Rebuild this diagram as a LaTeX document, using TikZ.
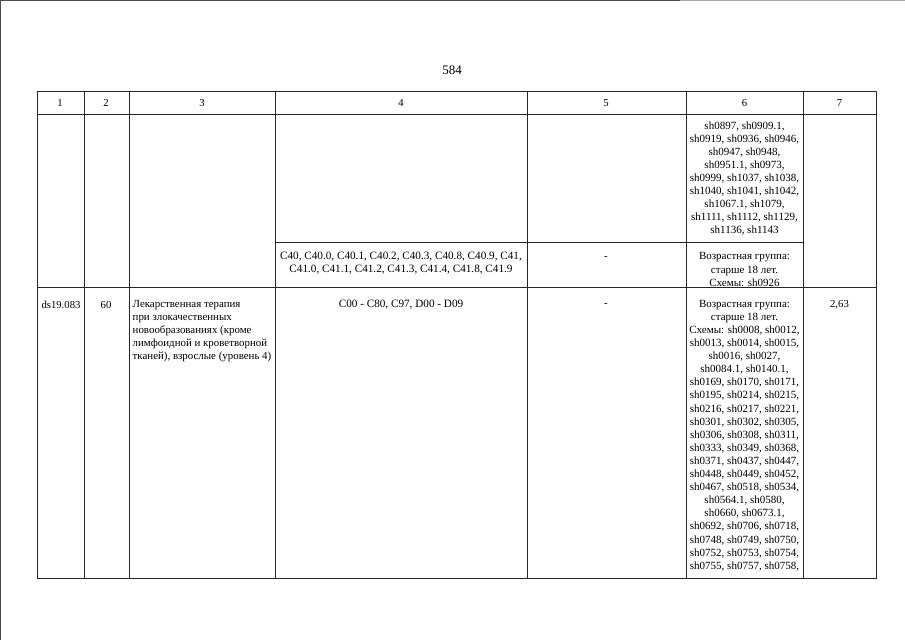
\documentclass[tikz,border=0pt]{standalone}
\usepackage{fontspec}
\setmainfont{Liberation Serif}
\begin{document}
\begin{tikzpicture}[x=1pt,y=-1pt,
  grid/.style={line width=0.8pt,draw=black!85},
  edge/.style={line width=1pt,draw=black!70},
  cell/.style={inner sep=0pt,font=\fontsize{10.7}{13.1}\selectfont},
  ccell/.style={cell,align=center},
  schemes/.style={ccell,font=\fontsize{11}{13.1}\selectfont},
  lcell/.style={cell,align=left,anchor=west}]
\useasboundingbox (0,0) rectangle (905,640);
% scan edges
\draw[edge] (0.8,0) -- (0.8,640);
\draw[edge] (0,0.5) -- (680,0.5);
\draw[edge,draw=black!35] (680,0.5) -- (905,0.5);
% page number
\node[cell,font=\fontsize{13}{15}\selectfont] (pg) at (452,70) {584};
% table grid
\draw[grid] (37,91) rectangle (876,578);
\draw[grid] (37,114) -- (876,114);
\draw[grid] (37,287) -- (876,287);
\draw[grid] (275,242) -- (803,242);
\foreach \x in {84,129,275,527,686,803} \draw[grid] (\x,91) -- (\x,578);
% header
\node[cell] (h1) at (60,103) {1};
\node[cell] (h2) at (106,103) {2};
\node[cell] (h3) at (202,103) {3};
\node[cell] (h4) at (401,103) {4};
\node[cell] (h5) at (606,103) {5};
\node[cell] (h6) at (744.5,103) {6};
\node[cell] (h7) at (839.5,103) {7};
% row 1 (continuation)
\node[schemes] (r1c6) at (744.5,178.5) {sh0897, sh0909.1,\\sh0919, sh0936, sh0946,\\sh0947, sh0948,\\sh0951.1, sh0973,\\sh0999, sh1037, sh1038,\\sh1040, sh1041, sh1042,\\sh1067.1, sh1079,\\sh1111, sh1112, sh1129,\\sh1136, sh1143};
% row 2
\node[ccell,font=\fontsize{11.2}{13.1}\selectfont] (r2c4) at (401,263.5) {C40, C40.0, C40.1, C40.2, C40.3, C40.8, C40.9, C41,\\C41.0, C41.1, C41.2, C41.3, C41.4, C41.8, C41.9};
\node[cell] (r2c5) at (606,258) {-};
\node[schemes] (r2c6) at (744.5,269.5) {Возрастная группа:\\старше 18 лет.\\Схемы: sh0926};
% row 3
\node[cell] (r3c1) at (61,304.5) {ds19.083};
\node[cell] (r3c2) at (106,304.5) {60};
\node[lcell,font=\fontsize{10.9}{13.1}\selectfont] (r3c3) at (132.5,331) {Лекарственная терапия\\при злокачественных\\новообразованиях (кроме\\лимфоидной и кроветворной\\тканей), взрослые (уровень 4)};
\node[cell,font=\fontsize{11.2}{13.1}\selectfont] (r3c4) at (401,304.5) {C00 - C80, C97, D00 - D09};
\node[cell] (r3c5) at (606,305) {-};
\node[schemes] (r3c6) at (744.5,435.5) {Возрастная группа:\\старше 18 лет.\\Схемы: sh0008, sh0012,\\sh0013, sh0014, sh0015,\\sh0016, sh0027,\\sh0084.1, sh0140.1,\\sh0169, sh0170, sh0171,\\sh0195, sh0214, sh0215,\\sh0216, sh0217, sh0221,\\sh0301, sh0302, sh0305,\\sh0306, sh0308, sh0311,\\sh0333, sh0349, sh0368,\\sh0371, sh0437, sh0447,\\sh0448, sh0449, sh0452,\\sh0467, sh0518, sh0534,\\sh0564.1, sh0580,\\sh0660, sh0673.1,\\sh0692, sh0706, sh0718,\\sh0748, sh0749, sh0750,\\sh0752, sh0753, sh0754,\\sh0755, sh0757, sh0758,};
\node[cell] (r3c7) at (839.5,304.5) {2,63};
\end{tikzpicture}
\end{document}
